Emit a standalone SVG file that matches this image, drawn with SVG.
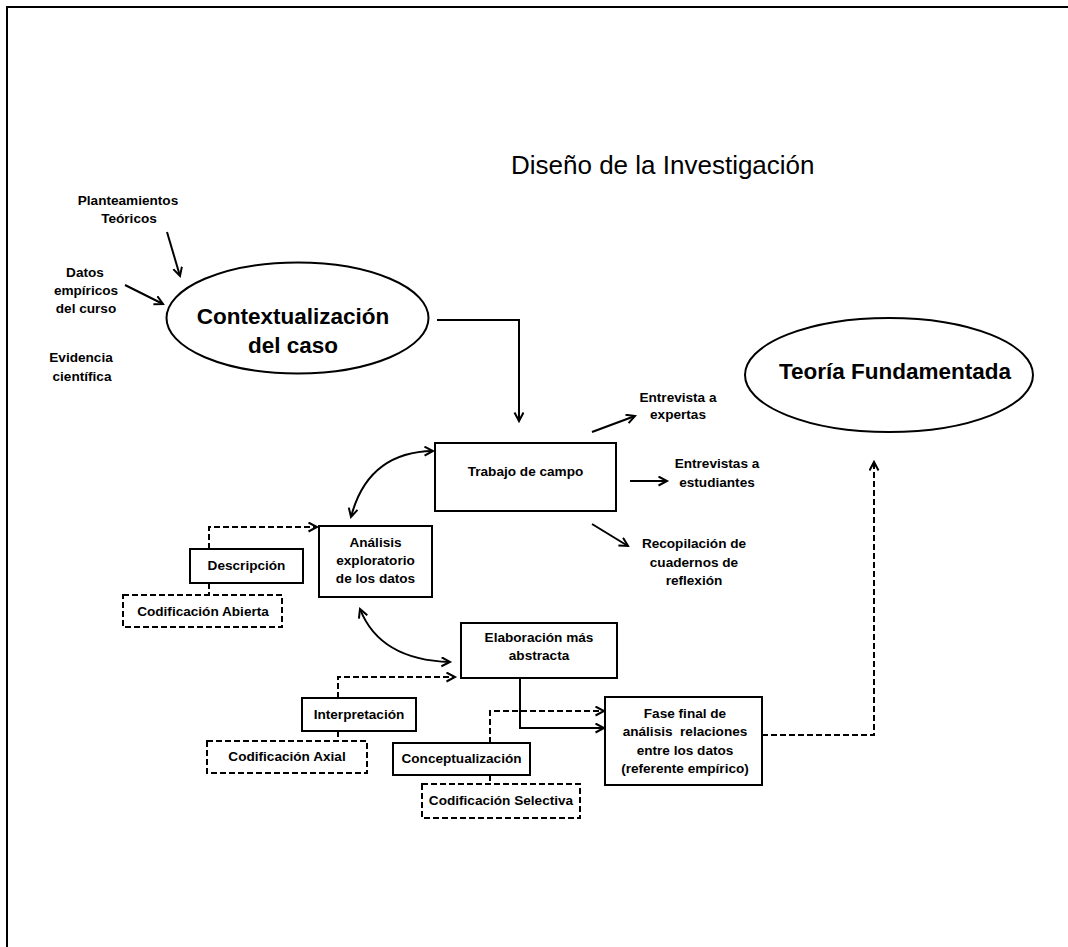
<svg xmlns="http://www.w3.org/2000/svg" width="1068" height="947" viewBox="0 0 1068 947">
<style>
  .b { font-family: "Liberation Sans", Arial, sans-serif; font-weight: bold; font-size: 13.6px; fill: #000; text-anchor: middle; }
  .big { font-family: "Liberation Sans", Arial, sans-serif; font-weight: bold; font-size: 22.5px; fill: #000; text-anchor: middle; }
  .title { font-family: "Liberation Sans", Arial, sans-serif; font-size: 26px; fill: #000; }
  .box { fill: #fff; stroke: #000; stroke-width: 2; }
  .dbox { fill: #fff; stroke: #000; stroke-width: 2; stroke-dasharray: 6 3; }
  .ell { fill: #fff; stroke: #000; stroke-width: 2; }
  .ln { fill: none; stroke: #000; stroke-width: 2; }
  .dl { fill: none; stroke: #000; stroke-width: 2; stroke-dasharray: 6 3; }
</style>
<defs>
  <marker id="ah" markerUnits="userSpaceOnUse" markerWidth="14" markerHeight="14" refX="9" refY="5" orient="auto-start-reverse">
    <path d="M0.5,0.5 L9,5 L0.5,9.5" fill="none" stroke="#000" stroke-width="2"/>
  </marker>
</defs>
<rect x="7" y="7" width="1080" height="960" fill="none" stroke="#000" stroke-width="2"/>
<text class="title" x="511" y="174">Diseño de la Investigación</text>

<g id="connectors">
  <path class="ln" d="M167,232 L180,276" marker-end="url(#ah)"/>
  <path class="ln" d="M125,285 L163,304" marker-end="url(#ah)"/>
  <path class="ln" d="M437,320 H519 V421" marker-end="url(#ah)"/>
  <path class="ln" d="M592,432 L635,416" marker-end="url(#ah)"/>
  <path class="ln" d="M630,481 L667,481" marker-end="url(#ah)"/>
  <path class="ln" d="M592,524 L628,546" marker-end="url(#ah)"/>
  <path class="ln" d="M351,517 Q368,452 433,451" marker-start="url(#ah)" marker-end="url(#ah)"/>
  <path class="ln" d="M360,609 Q380,660 450,662" marker-start="url(#ah)" marker-end="url(#ah)"/>
  <path class="dl" d="M209,549 V527 H317" marker-end="url(#ah)"/>
  <path class="dl" d="M209,583 V595"/>
  <path class="dl" d="M338,698 V677 H455" marker-end="url(#ah)"/>
  <path class="dl" d="M338,731 V741"/>
  <path class="ln" d="M520,678 V728 H604" marker-end="url(#ah)"/>
  <path class="dl" d="M490,743 V711 H604" marker-end="url(#ah)"/>
  <path class="dl" d="M490,775 V784"/>
  <path class="dl" d="M762,735 H874 V462" marker-end="url(#ah)"/>
</g>

<g id="planteamientos">
  <text class="b" x="128" y="205">Planteamientos</text>
  <text class="b" x="129" y="223">Teóricos</text>
</g>
<g id="datos">
  <text class="b" x="85" y="277">Datos</text>
  <text class="b" x="86" y="295">empíricos</text>
  <text class="b" x="86" y="313">del curso</text>
</g>
<g id="evidencia">
  <text class="b" x="81" y="362">Evidencia</text>
  <text class="b" x="82" y="381">científica</text>
</g>
<g id="contextualizacion">
  <ellipse class="ell" cx="297.5" cy="318" rx="131" ry="55.5"/>
  <text class="big" x="293" y="324">Contextualización</text>
  <text class="big" x="293" y="353">del caso</text>
</g>
<g id="teoria">
  <ellipse class="ell" cx="889" cy="375" rx="144" ry="57"/>
  <text class="big" x="895" y="379">Teoría Fundamentada</text>
</g>
<g id="trabajo">
  <rect class="box" x="435" y="443" width="181" height="68"/>
  <text class="b" x="525.5" y="476">Trabajo de campo</text>
</g>
<g id="expertas">
  <text class="b" x="678" y="402">Entrevista a</text>
  <text class="b" x="678" y="419">expertas</text>
</g>
<g id="estudiantes">
  <text class="b" x="717" y="468">Entrevistas a</text>
  <text class="b" x="717" y="487">estudiantes</text>
</g>
<g id="recopilacion">
  <text class="b" x="694" y="548">Recopilación de</text>
  <text class="b" x="694" y="567">cuadernos de</text>
  <text class="b" x="694" y="585">reflexión</text>
</g>
<g id="analisis">
  <rect class="box" x="319" y="526" width="113" height="71"/>
  <text class="b" x="375.5" y="547">Análisis</text>
  <text class="b" x="375.5" y="565">exploratorio</text>
  <text class="b" x="375.5" y="583">de los datos</text>
</g>
<g id="descripcion">
  <rect class="box" x="190" y="549" width="113" height="34"/>
  <text class="b" x="246.5" y="570">Descripción</text>
</g>
<g id="cod-abierta">
  <rect class="dbox" x="123" y="595" width="159" height="32"/>
  <text class="b" x="203" y="616">Codificación Abierta</text>
</g>
<g id="elaboracion">
  <rect class="box" x="461" y="623" width="156" height="55"/>
  <text class="b" x="539" y="642">Elaboración más</text>
  <text class="b" x="539" y="660">abstracta</text>
</g>
<g id="interpretacion">
  <rect class="box" x="302" y="698" width="114" height="33"/>
  <text class="b" x="359" y="719">Interpretación</text>
</g>
<g id="cod-axial">
  <rect class="dbox" x="207" y="741" width="160" height="32"/>
  <text class="b" x="287" y="761">Codificación Axial</text>
</g>
<g id="conceptualizacion">
  <rect class="box" x="393" y="743" width="137" height="32"/>
  <text class="b" x="461.5" y="763">Conceptualización</text>
</g>
<g id="cod-selectiva">
  <rect class="dbox" x="422" y="784" width="158" height="34"/>
  <text class="b" x="501" y="805">Codificación Selectiva</text>
</g>
<g id="fase-final">
  <rect class="box" x="605" y="697" width="157" height="88"/>
  <text class="b" x="685" y="718">Fase final de</text>
  <text class="b" x="685" y="736">análisis &#160;relaciones</text>
  <text class="b" x="685" y="755">entre los datos</text>
  <text class="b" x="685" y="773">(referente empírico)</text>
</g>
</svg>
